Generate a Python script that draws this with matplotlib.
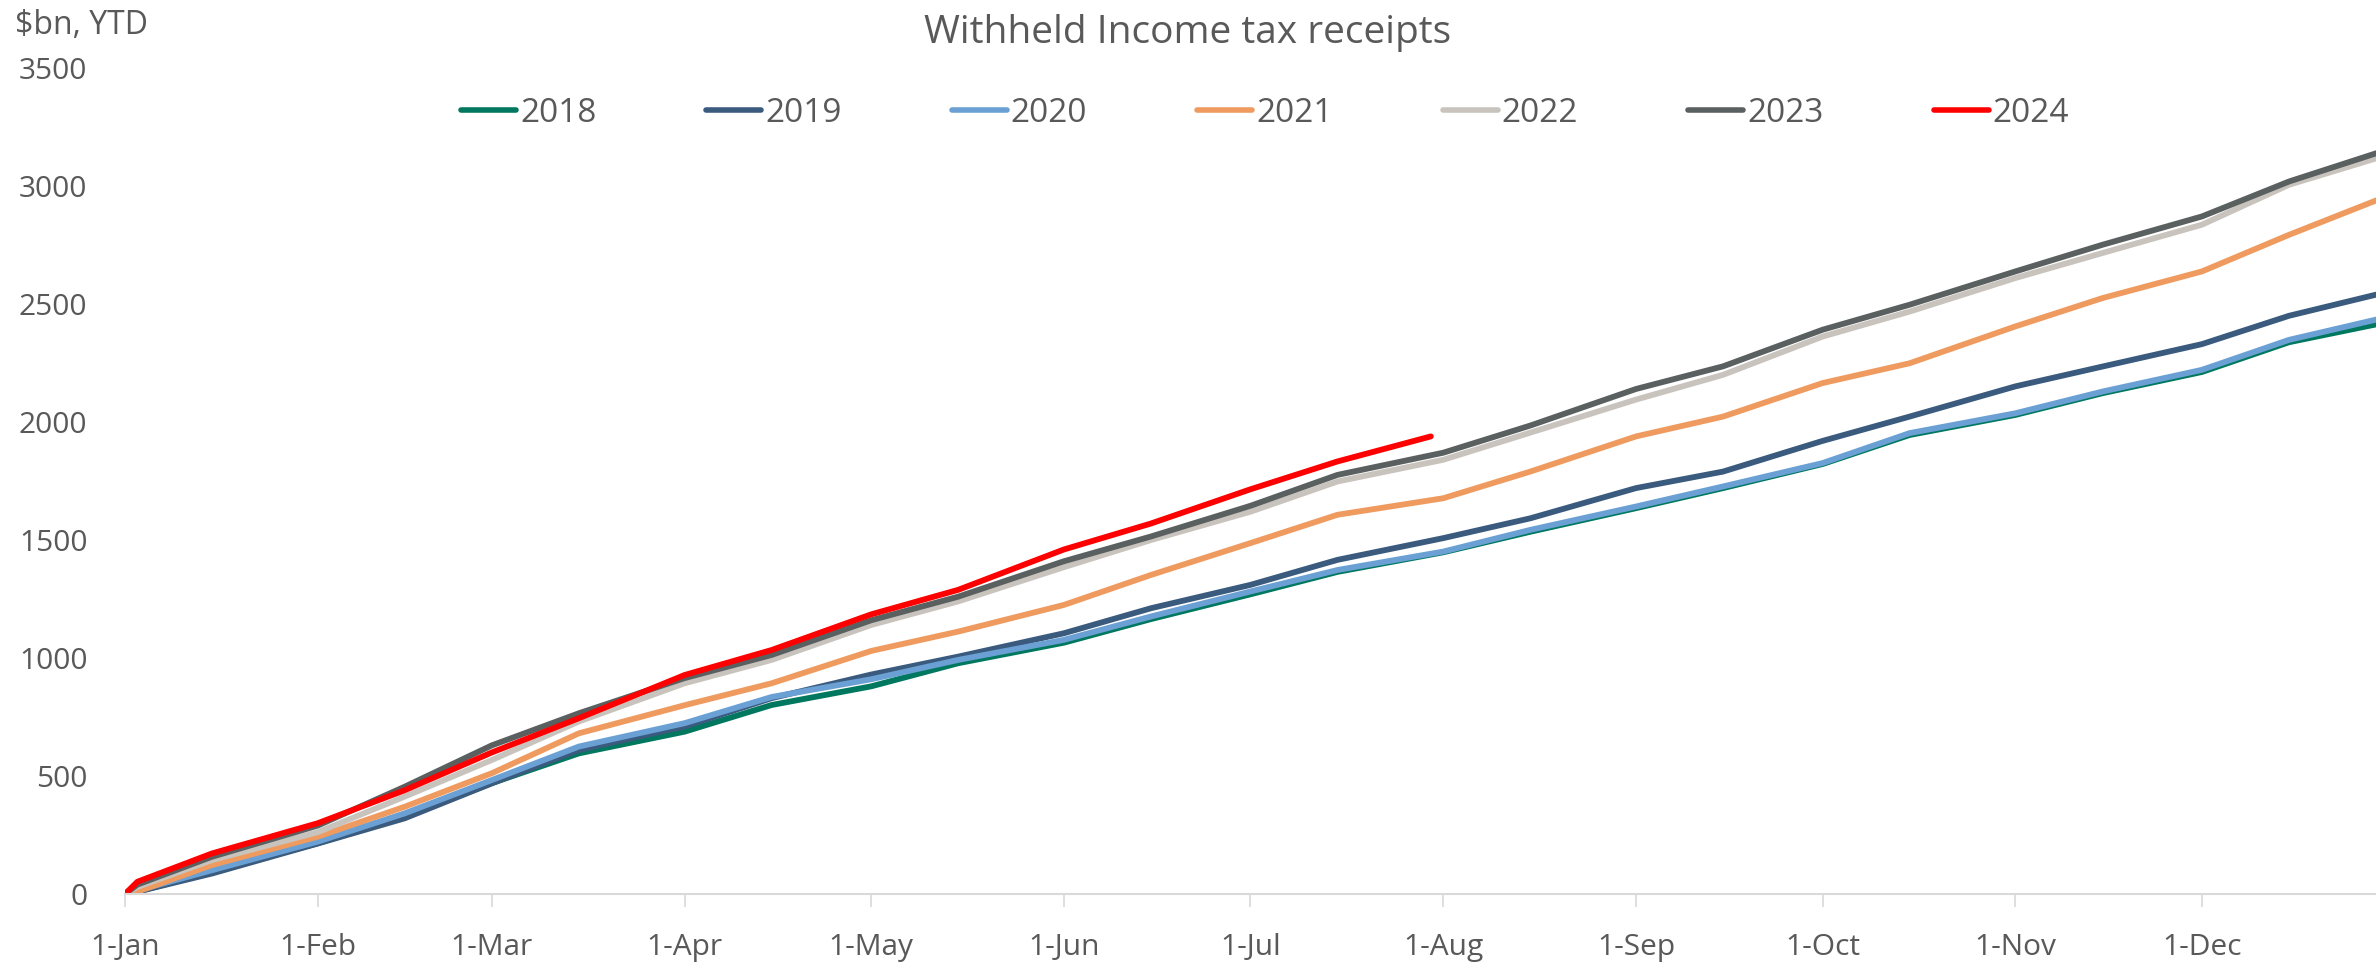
import matplotlib
matplotlib.use("Agg")
import matplotlib.pyplot as plt
import pandas as pd

plt.rcParams['font.family'] = ['Open Sans', 'DejaVu Sans']

# ---- data ($bn year-to-date) ----
check_dates = ["1-Jan", "3-Jan", "15-Jan", "1-Feb", "15-Feb", "1-Mar", "15-Mar", "1-Apr", "15-Apr",
               "1-May", "15-May", "1-Jun", "15-Jun", "1-Jul", "15-Jul", "1-Aug", "15-Aug",
               "1-Sep", "15-Sep", "1-Oct", "15-Oct", "1-Nov", "15-Nov", "1-Dec", "15-Dec", "30-Dec"]
dates_2024 = ["1-Jan", "3-Jan", "15-Jan", "1-Feb", "15-Feb", "1-Mar", "15-Mar", "1-Apr", "15-Apr",
              "1-May", "15-May", "1-Jun", "15-Jun", "1-Jul", "15-Jul", "30-Jul"]

y2018 = [0, 10, 94, 215, 328, 470, 596, 688, 801, 880, 978, 1065, 1165, 1270, 1365, 1448, 1535,
         1635, 1720, 1822, 1945, 2030, 2122, 2212, 2338, 2419]
y2019 = [0, 10, 87, 214, 321, 469, 610, 710, 830, 930, 1006, 1105, 1211, 1310, 1416, 1508, 1592,
         1720, 1790, 1920, 2023, 2151, 2235, 2330, 2450, 2546]
y2020 = [0, 15, 101, 222, 342, 483, 625, 724, 835, 910, 992, 1077, 1176, 1282, 1373, 1451, 1543,
         1642, 1727, 1826, 1953, 2037, 2129, 2221, 2348, 2440]
y2021 = [0, 10, 123, 243, 370, 512, 681, 800, 893, 1030, 1112, 1225, 1352, 1487, 1607, 1677, 1790,
         1939, 2023, 2165, 2249, 2405, 2525, 2638, 2793, 2949]
y2022 = [0, 30, 144, 262, 413, 568, 731, 893, 992, 1140, 1240, 1385, 1500, 1620, 1748, 1840, 1955,
         2095, 2200, 2362, 2468, 2610, 2716, 2836, 3005, 3125]
y2023 = [0, 40, 158, 290, 455, 630, 766, 915, 1013, 1160, 1260, 1410, 1515, 1645, 1776, 1870, 1985,
         2140, 2236, 2391, 2497, 2638, 2751, 2871, 3019, 3147]
y2024 = [0, 52, 172, 300, 440, 600, 745, 928, 1034, 1185, 1289, 1460, 1570, 1715, 1833, 1939]

years = ["2018", "2019", "2020", "2021", "2022", "2023", "2024"]
colors = ["#00785F", "#3A5B7E", "#6AA0D4", "#EF9B60", "#C9C3BD", "#5A5F60", "#FF0000"]

month_ticks = ["1-Jan", "1-Feb", "1-Mar", "1-Apr", "1-May", "1-Jun", "1-Jul", "1-Aug",
               "1-Sep", "1-Oct", "1-Nov", "1-Dec"]


def to_day(labels):
    d = pd.to_datetime([s + "-2023" for s in labels], format="%d-%b-%Y")
    return list(d.dayofyear - 1)


x_all = to_day(check_dates)
x_24 = to_day(dates_2024)
xt = to_day(month_ticks)

series = [(x_all, y2018), (x_all, y2019), (x_all, y2020), (x_all, y2021),
          (x_all, y2022), (x_all, y2023), (x_24, y2024)]

TXT = "#595959"
fig = plt.figure(figsize=(23.76, 9.66), dpi=100)
ax = fig.add_axes([0.0526, 0.0745, 0.9474, 0.8551])

for (xs, ys), yr, c in zip(series, years, colors):
    ax.plot(xs, ys, color=c, lw=4.2, label=yr, solid_capstyle='round', solid_joinstyle='round')

ax.set_xlim(0, 362)
ax.set_ylim(0, 3500)
ax.set_yticks(range(0, 3501, 500))
ax.set_xticks(xt)
ax.set_xticklabels(month_ticks)

for s in ["top", "right", "left"]:
    ax.spines[s].set_visible(False)
ax.spines["bottom"].set_color("#D9D9D9")
ax.spines["bottom"].set_linewidth(1.5)

ax.tick_params(axis='y', length=0, pad=27, labelsize=21.5, labelcolor=TXT)
ax.tick_params(axis='x', length=9, width=1.2, color="#D9D9D9", direction='out',
               pad=19, labelsize=21.5, labelcolor=TXT)

fig.text(0.5, 1 - 33 / 966, "Withheld Income tax receipts", ha='center', va='center',
         fontsize=28, color=TXT)
fig.text(15 / 2376, 1 - 26 / 966, "\\$bn, YTD", ha='left', va='center', fontsize=23, color=TXT)

leg = fig.legend(loc='center', bbox_to_anchor=(0.5324, 1 - 113 / 966), ncol=7, frameon=False,
                 fontsize=24, handlelength=1.65, handletextpad=0.12, columnspacing=3.3,
                 borderaxespad=0, borderpad=0)
for t in leg.get_texts():
    t.set_color(TXT)
for h in leg.get_lines():
    h.set_linewidth(4)
    h.set_solid_capstyle('round')

fig.savefig("out.png", dpi=100)
